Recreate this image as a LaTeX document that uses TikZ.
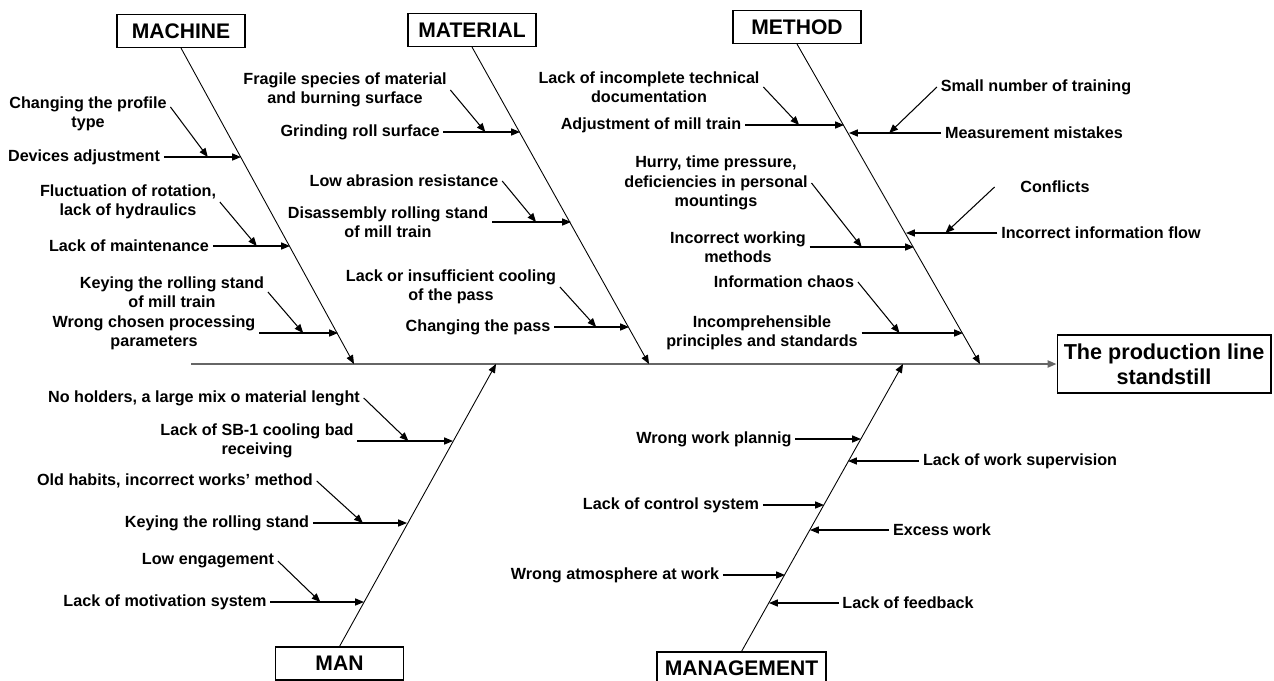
\documentclass[tikz,border=0pt]{standalone}
\usepackage{fontspec}
\setmainfont{Liberation Sans}
\usetikzlibrary{arrows.meta, calc}

\begin{document}
\begin{tikzpicture}[
    x=0.02cm, y=-0.02cm,
    cause/.style={font=\bfseries\fontsize{9.2}{11}\selectfont, align=center, inner sep=2pt},
    category/.style={draw, line width=0.6pt, font=\bfseries\fontsize{12}{14}\selectfont, minimum width=2.56cm, minimum height=0.66cm, inner sep=0pt},
    effect/.style={draw, line width=0.6pt, font=\bfseries\fontsize{12.3}{14.2}\selectfont, align=center, minimum width=4.28cm, minimum height=1.16cm, inner sep=0pt},
    spine/.style={line width=1pt, draw=black!60, -{Triangle[length=5pt,width=4pt]}},
    bone/.style={line width=0.5pt, -{Triangle[length=5pt,width=4pt]}},
    arrow/.style={line width=0.6pt, -{Triangle[length=5pt,width=4pt]}}
]
    \useasboundingbox (0,0) rectangle (1274,680);

    \node[category] (machine) at (181,31) {MACHINE};
    \node[category] (material) at (472,30) {MATERIAL};
    \node[category] (method) at (797,27) {METHOD};
    \node[category] (man) at (339.5,663.5) {MAN};
    \node[category, minimum width=3.38cm] (management) at (741.5,668.5) {MANAGEMENT};
    \node[effect] (effect) at (1164,364) {The production line\\standstill};

    \coordinate (tail) at (191,364);
    \coordinate (machineEnd) at (354,364);
    \coordinate (materialEnd) at (649,364);
    \coordinate (methodEnd) at (980,364);
    \coordinate (manEnd) at (496,364);
    \coordinate (managementEnd) at (903,364);

    \draw[spine] (tail) -- (effect.west);
    \draw[bone] (machine.south) -- (machineEnd);
    \draw[bone] (material.south) -- (materialEnd);
    \draw[bone] (method.south) -- (methodEnd);
    \draw[bone] (man.north) -- (manEnd);
    \draw[bone] (management.north) -- (managementEnd);

    % machine
    \coordinate (mh1) at (241,157);
    \coordinate (mh2) at (290,246);
    \coordinate (mh3) at (338,333);
    \node[cause] (profile) at (88,114) {Changing the profile\\type};
    \node[cause] (devices) at (84,157) {Devices adjustment};
    \node[cause] (rotation) at (128,202) {Fluctuation of rotation,\\lack of hydraulics};
    \node[cause] (maint) at (129,246) {Lack of maintenance};
    \node[cause] (keying) at (172,292) {Keying the rolling stand\\of mill train};
    \node[cause] (params) at (154,333) {Wrong chosen processing\\parameters};
    \draw[arrow] (devices) -- (mh1);
    \draw[arrow] ([yshift=4pt]profile.east) -- ($(devices.east)+(44,0)$);
    \draw[arrow] (maint) -- (mh2);
    \draw[arrow] (rotation.east) -- ($(maint.east)+(44,0)$);
    \draw[arrow] (params) -- (mh3);
    \draw[arrow] (keying.east) -- ($(params.east)+(44,0)$);

    % material
    \coordinate (mt1) at (520,132);
    \coordinate (mt2) at (571,222);
    \coordinate (mt3) at (629,327);
    \node[cause] (fragile) at (345,90) {Fragile species of material\\and burning surface};
    \node[cause] (grinding) at (360,132) {Grinding roll surface};
    \node[cause] (abrasion) at (404,181) {Low abrasion resistance};
    \node[cause] (disasm) at (388,222) {Disassembly rolling stand\\of mill train};
    \node[cause] (cooling) at (451,287) {Lack or insufficient cooling\\of the pass};
    \node[cause] (pass) at (478,327) {Changing the pass};
    \draw[arrow] (grinding) -- (mt1);
    \draw[arrow] (fragile.east) -- ($(grinding.east)+(42,0)$);
    \draw[arrow] (disasm) -- (mt2);
    \draw[arrow] (abrasion.east) -- ($(disasm.east)+(44,0)$);
    \draw[arrow] (pass) -- (mt3);
    \draw[arrow] (cooling.east) -- ($(pass.east)+(42,0)$);

    % method
    \coordinate (me1) at (844,125);
    \coordinate (me2) at (849,133);
    \coordinate (me3) at (906,233);
    \coordinate (me4) at (914,247);
    \coordinate (me5) at (963,333);
    \node[cause] (techdoc) at (649,87) {Lack of incomplete technical\\documentation};
    \node[cause] (adjust) at (651,125) {Adjustment of mill train};
    \node[cause] (training) at (1036,87) {Small number of training};
    \node[cause] (mistakes) at (1034,133) {Measurement mistakes};
    \node[cause] (hurry) at (716,183) {Hurry, time pressure,\\deficiencies in personal\\mountings};
    \node[cause] (working) at (738,247) {Incorrect working\\methods};
    \node[cause] (conflicts) at (1055,187) {Conflicts};
    \node[cause] (infoflow) at (1101,233) {Incorrect information flow};
    \node[cause] (chaos) at (784,282) {Information chaos};
    \node[cause] (principles) at (762,333) {Incomprehensible\\principles and standards};
    \draw[arrow] (adjust) -- (me1);
    \draw[arrow] (techdoc.east) -- ($(adjust.east)+(54,0)$);
    \draw[arrow] (mistakes) -- (me2);
    \draw[arrow] (training.west) -- ($(mistakes.west)+(-52,0)$);
    \draw[arrow] (working) -- (me4);
    \draw[arrow] (hurry.east) -- ($(working.east)+(52,0)$);
    \draw[arrow] (infoflow) -- (me3);
    \draw[arrow] ($(conflicts.west)+(-22,0)$) -- ($(infoflow.west)+(-52,0)$);
    \draw[arrow] (principles) -- (me5);
    \draw[arrow] (chaos.east) -- ($(principles.east)+(38,0)$);

    % man
    \coordinate (mn1) at (453,441);
    \coordinate (mn2) at (407,523);
    \coordinate (mn3) at (364,602);
    \node[cause] (holders) at (204,398) {No holders, a large mix o material lenght};
    \node[cause] (sb1) at (257,441) {Lack of SB-1 cooling bad\\receiving};
    \node[cause] (habits) at (175,481) {Old habits, incorrect works’ method};
    \node[cause] (keystand) at (217,523) {Keying the rolling stand};
    \node[cause] (engage) at (208,561) {Low engagement};
    \node[cause] (motiv) at (165,602) {Lack of motivation system};
    \draw[arrow] (sb1) -- (mn1);
    \draw[arrow] (holders.east) -- ($(sb1.east)+(51,0)$);
    \draw[arrow] (keystand) -- (mn2);
    \draw[arrow] (habits.east) -- ($(keystand.east)+(50,0)$);
    \draw[arrow] (motiv) -- (mn3);
    \draw[arrow] (engage.east) -- ($(motiv.east)+(50,0)$);

    % management
    \coordinate (mg1) at (861,439);
    \coordinate (mg2) at (848,461);
    \coordinate (mg3) at (824,505);
    \coordinate (mg4) at (810,530);
    \coordinate (mg5) at (785,575);
    \coordinate (mg6) at (769,603);
    \node[cause] (planning) at (714,439) {Wrong work plannig};
    \node[cause] (supervision) at (1020,461) {Lack of work supervision};
    \node[cause] (control) at (671,505) {Lack of control system};
    \node[cause] (excess) at (942,530) {Excess work};
    \node[cause] (atmosphere) at (615,575) {Wrong atmosphere at work};
    \node[cause] (feedback) at (908,603) {Lack of feedback};
    \draw[arrow] (planning) -- (mg1);
    \draw[arrow] (supervision) -- (mg2);
    \draw[arrow] (control) -- (mg3);
    \draw[arrow] (excess) -- (mg4);
    \draw[arrow] (atmosphere) -- (mg5);
    \draw[arrow] (feedback) -- (mg6);
\end{tikzpicture}
\end{document}
